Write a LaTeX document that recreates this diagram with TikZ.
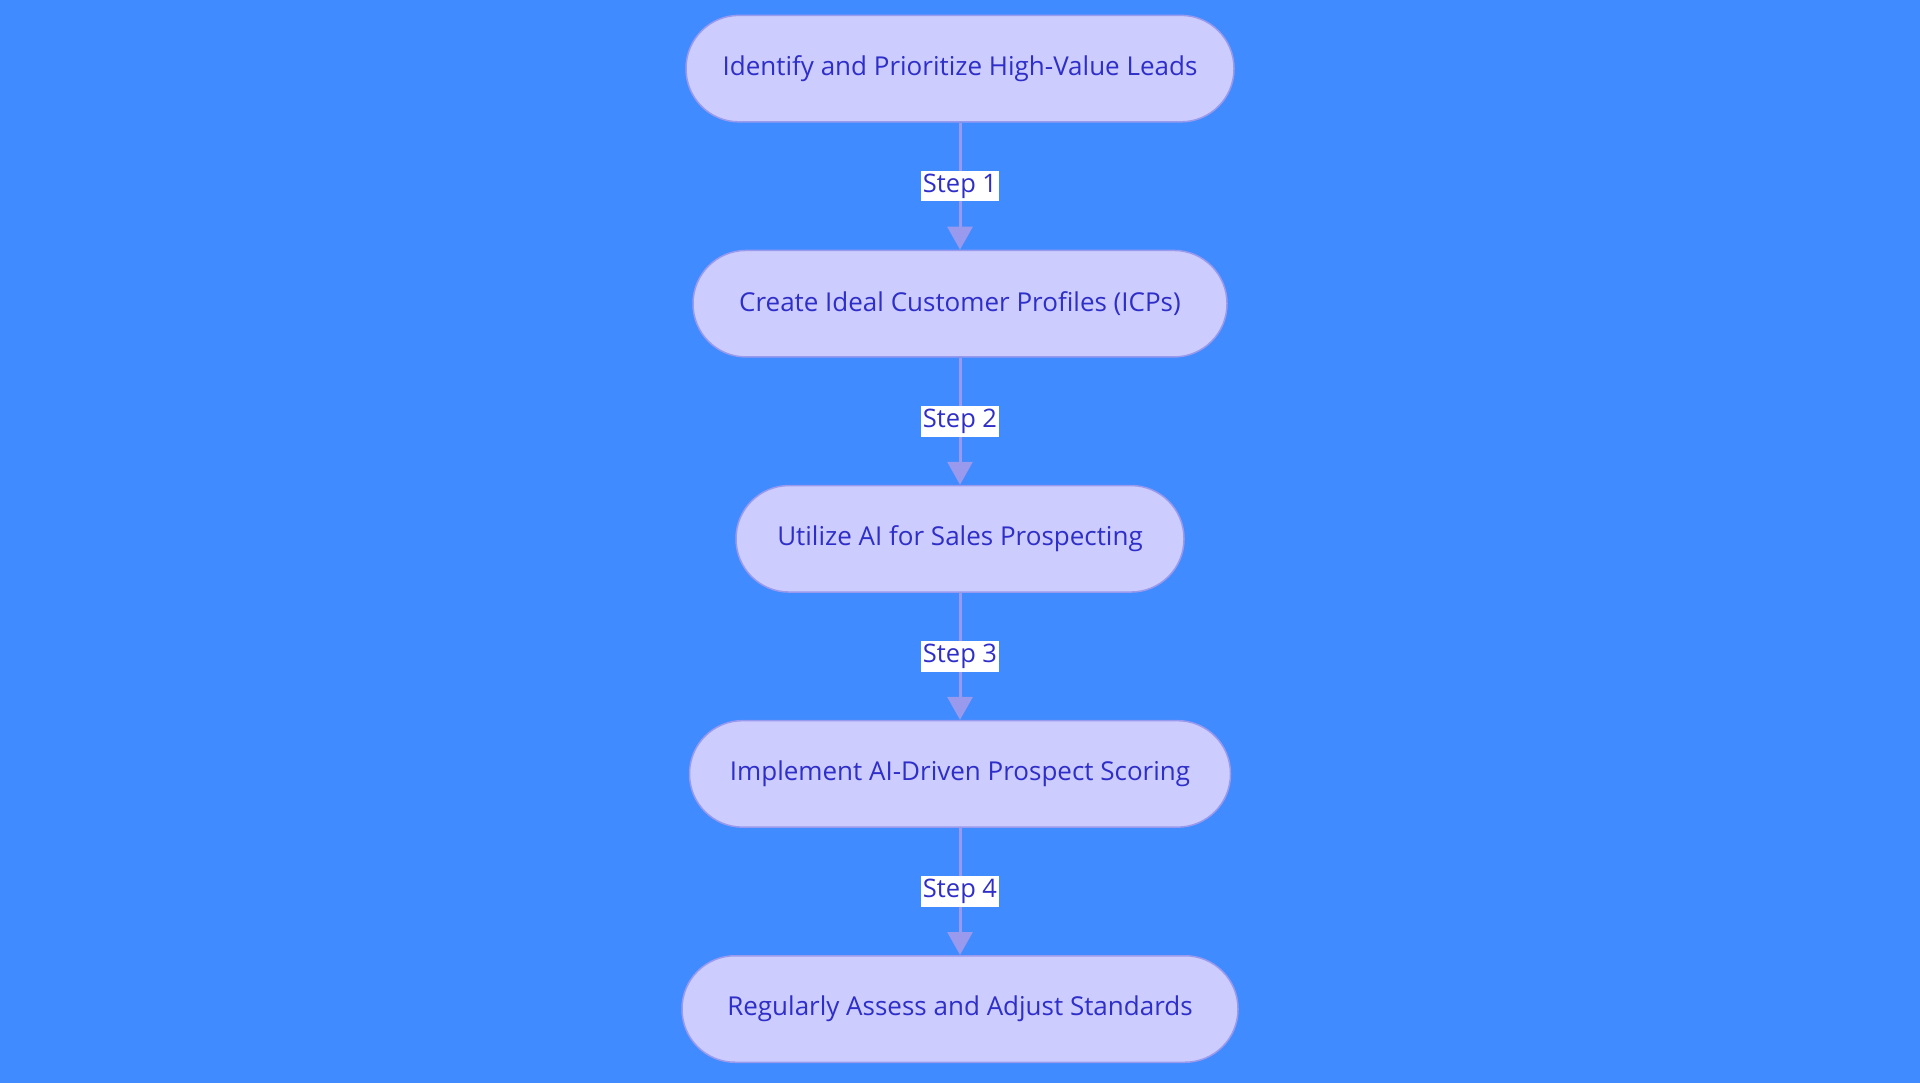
\documentclass[tikz,border=0pt]{standalone}
\usepackage{fontspec}
\setmainfont{Open Sans}
\usetikzlibrary{arrows.meta}
\definecolor{bg}{RGB}{64,139,255}
\definecolor{boxfill}{RGB}{204,204,255}
\definecolor{boxline}{RGB}{153,153,238}
\definecolor{txt}{RGB}{46,46,200}
\definecolor{arr}{RGB}{153,153,238}
\tikzset{
  stepbox/.style={draw=boxline, line width=1.5pt, fill=boxfill, rounded corners=53pt,
    minimum height=106.5pt, inner sep=0pt, text=txt, font=\fontsize{26}{31}\selectfont},
  flow/.style={draw=arr, line width=3pt, -{Triangle[width=25pt,length=23pt]}},
  steplabel/.style={fill=white, text=txt, inner xsep=1.5pt, inner ysep=3pt, font=\fontsize{25.5}{30}\selectfont}
}
\begin{document}
\begin{tikzpicture}[x=1pt,y=-1pt]
\fill[bg] (0,0) rectangle (1920,1083);
\useasboundingbox (0,0) rectangle (1920,1083);
\node[stepbox, minimum width=548pt] (n1) at (960,68.6) {Identify and Prioritize High-Value Leads};
\node[stepbox, minimum width=534pt] (n2) at (960,303.7) {Create Ideal Customer Profiles (ICPs)};
\node[stepbox, minimum width=448pt] (n3) at (960,538.8) {Utilize AI for Sales Prospecting};
\node[stepbox, minimum width=541pt] (n4) at (960,773.9) {Implement AI-Driven Prospect Scoring};
\node[stepbox, minimum width=556pt] (n5) at (960,1009) {Regularly Assess and Adjust Standards};
\draw[flow] (n1.south) -- node[steplabel] {Step 1} (n2.north);
\draw[flow] (n2.south) -- node[steplabel] {Step 2} (n3.north);
\draw[flow] (n3.south) -- node[steplabel] {Step 3} (n4.north);
\draw[flow] (n4.south) -- node[steplabel] {Step 4} (n5.north);
\end{tikzpicture}
\end{document}
